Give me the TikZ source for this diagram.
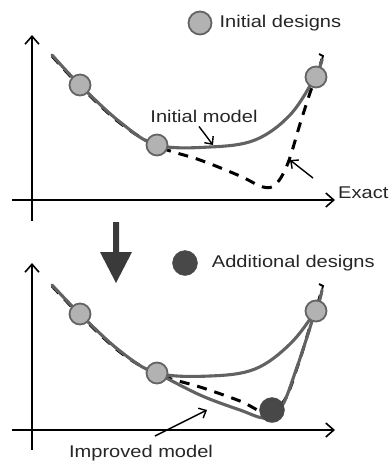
\documentclass[tikz,border=0pt]{standalone}
\usepackage{fontspec}
\setmainfont{Liberation Sans}
\newfontfamily\lblfont[FakeStretch=1.18]{Liberation Sans}
\usetikzlibrary{positioning,arrows.meta}
\definecolor{curvegray}{RGB}{98,98,98}
\definecolor{ptfill}{RGB}{178,178,178}
\definecolor{ptedge}{RGB}{100,100,100}
\definecolor{addfill}{RGB}{72,72,72}
\definecolor{bigarr}{RGB}{58,58,58}
\tikzset{
  axis/.style={line width=1.6pt, -{Straight Barb[length=8pt,width=14pt,line width=1.6pt]}},
  model/.style={curvegray, line width=3.1pt, line cap=round},
  exact/.style={black, line width=3pt, dash pattern=on 10pt off 8pt},
  design/.style={circle, fill=ptfill, draw=ptedge, line width=1.8pt, minimum size=21pt, inner sep=0pt},
  newdesign/.style={circle, fill=addfill, draw=addfill, minimum size=25pt, inner sep=0pt},
  lbl/.style={font=\lblfont\fontsize{17}{20}\selectfont, text=black!85, inner sep=0pt},
  note/.style={-{Straight Barb[length=6pt,width=11pt]}, line width=1.4pt}
}

\begin{document}
\begin{tikzpicture}[x=1pt,y=-1pt]
\useasboundingbox (0,0) rectangle (390,467);
% --- top: initial fit ---
\draw[axis] (32,221) -- (32,35);
\draw[axis] (12,200) -- (335,200);
\draw[exact] plot[smooth, tension=0.6] coordinates {(52,56) (80,86) (120,123) (157,146) (200,160) (240,176) (263,187) (276,184) (288,163) (300,124) (311,90) (317,75) (322,59)};
\draw[black, line width=1.8pt] (322,60) -- (323,56) -- (319,54);
\draw[model] plot[smooth, tension=0.6] coordinates {(52,55) (80,85) (120,122) (157,145) (210,147) (255,140) (290,115) (315,77) (322,60)};
\node[design] (i1) at (80,85) {};
\node[design] (i2) at (157,145) {};
\node[design] (i3) at (316,77) {};
\node[design, minimum size=23pt] (leg1) at (200,23) {};
\node[lbl, right=7pt of leg1] (leg1t) {Initial designs};
\node[lbl] (mlbl) at (204,116) {Initial model};
\coordinate (mpt) at (213,145);
\draw[note] (mlbl.south -| 199,0) ++(0,4) -- (mpt);
\node[lbl, anchor=west] (elbl) at (338,193) {Exact};
\coordinate (etail) at (313,178);
\coordinate (ept) at (290,160);
\draw[note] (etail) -- (ept);
% --- big arrow ---
\fill[bigarr] (113,222) -- (119,222) -- (119,252) -- (132,252) -- (116,283) -- (100,252) -- (113,252) -- cycle;
% --- bottom: improved fit ---
\draw[axis] (32,450) -- (32,263);
\draw[axis] (12,430) -- (335,430);
\draw[exact] plot[smooth, tension=0.6] coordinates {(52,286) (80,315) (120,352) (157,374) (200,387) (240,401) (265,412) (284,401) (298,365) (309,330) (316,309) (322,290)};
\draw[black, line width=1.8pt] (322,290) -- (323,286) -- (319,284);
\draw[model] plot[smooth, tension=0.6] coordinates {(52,285) (80,314) (120,351) (157,373) (210,376) (255,369) (290,344) (315,311) (322,290)};
\draw[model] plot[smooth, tension=0.6] coordinates {(157,373) (200,395) (240,410) (266,418) (282,406) (296,370) (308,334) (315,311)};
\node[design] (b1) at (80,314) {};
\node[design] (b2) at (157,373) {};
\node[design] (b3) at (316,311) {};
\node[newdesign] (a1) at (272,410) {};
\node[newdesign] (leg2) at (185,263) {};
\node[lbl, right=14pt of leg2] (leg2t) {Additional designs};
\node[lbl] (ilbl) at (141,453) {Improved model};
\coordinate (itail) at (155,436);
\coordinate (ipt) at (207,410);
\draw[note] (itail) -- (ipt);
\end{tikzpicture}
\end{document}
